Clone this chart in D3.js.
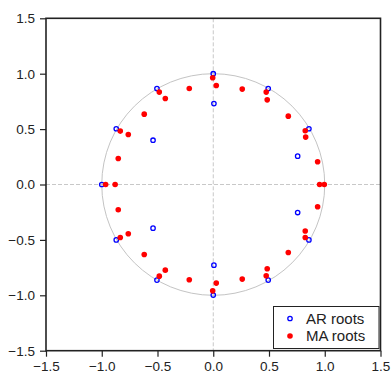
<!DOCTYPE html>
<html>
<head>
<meta charset="utf-8">
<script src="https://cdn.jsdelivr.net/npm/d3@7"></script>
<style>
  body { margin: 0; background: #fff; }
  svg { display: block; font-family: "Liberation Sans", Arial, sans-serif; }
</style>
</head>
<body>
<svg width="392" height="375"></svg>
<script>
// inverse roots
const arRe = [-0.505, -0.87, -0.54, -1.0, -0.54, -0.87, -0.505, 0.0, 0.006, 0.006, 0.0, 0.493, 0.858, 0.757, 0.757, 0.858, 0.493];
const arIm = [0.866, 0.503, 0.40, 0.0, -0.394, -0.5, -0.863, 1.0, 0.73, -0.728, -0.998, 0.866, 0.503, 0.256, -0.253, -0.5, -0.863];

const maRe = [-0.484, -0.43, -0.215, -0.619, -0.834, -0.762, -0.852, -0.965, -0.88,
              -0.852, -0.762, -0.834, -0.619, -0.43, -0.484, -0.215,
              -0.005, 0.027, 0.26, 0.475, 0.484, 0.673, 0.825, 0.829, 0.936, 0.954, 0.996,
              0.936, 0.825, 0.825, 0.673, 0.484, 0.475, 0.26, 0.027, -0.005];
const maIm = [0.834, 0.776, 0.866, 0.635, 0.482, 0.451, 0.235, 0.0, 0.0,
              -0.228, -0.445, -0.478, -0.632, -0.773, -0.827, -0.86,
              0.963, 0.894, 0.861, 0.834, 0.764, 0.617, 0.485, 0.428, 0.205, 0.0, 0.0,
              -0.201, -0.42, -0.478, -0.614, -0.761, -0.824, -0.854, -0.89, -0.96];

const ticks = [-1.5, -1.0, -0.5, 0.0, 0.5, 1.0, 1.5];
const legendLabels = ["AR roots", "MA roots"];

const svg = d3.select("svg");
const pl = 46, pr = 380.5, pt = 18.3, pb = 350.7;

const x = d3.scaleLinear().domain([-1.5, 1.5]).range([pl, pr]);
const y = d3.scaleLinear().domain([-1.5, 1.5]).range([pb, pt]);

// zero lines
svg.append("line")
  .attr("x1", x(0)).attr("x2", x(0)).attr("y1", pt).attr("y2", pb)
  .attr("stroke", "#c8c8c8").attr("stroke-dasharray", "4,2");
svg.append("line")
  .attr("x1", pl).attr("x2", pr).attr("y1", y(0)).attr("y2", y(0))
  .attr("stroke", "#c8c8c8").attr("stroke-dasharray", "4,2");

// unit circle
svg.append("ellipse")
  .attr("cx", x(0)).attr("cy", y(0))
  .attr("rx", x(1) - x(0)).attr("ry", y(0) - y(1))
  .attr("fill", "none").attr("stroke", "#c4c4c4").attr("stroke-width", 1);

// axes
const fmt = d3.format(".1f");
const xAxis = svg.append("g")
  .attr("transform", `translate(0,${pb})`)
  .call(d3.axisBottom(x).tickValues(ticks).tickFormat(fmt).tickSize(6).tickSizeOuter(0));
const yAxis = svg.append("g")
  .attr("transform", `translate(${pl},0)`)
  .call(d3.axisLeft(y).tickValues(ticks).tickFormat(fmt).tickSize(6).tickSizeOuter(0));
[xAxis, yAxis].forEach(g => {
  g.select(".domain").remove();
  g.selectAll(".tick line").attr("stroke", "#222").attr("stroke-width", 1.2);
  g.selectAll(".tick text").attr("fill", "#222").style("font-size", "13.5px")
    .style("font-family", "'Liberation Sans', Arial, sans-serif");
});
xAxis.selectAll(".tick text").attr("dy", "0.9em").attr("y", 8.5);
yAxis.selectAll(".tick text").attr("x", -11);

// frame
svg.append("rect")
  .attr("x", pl).attr("y", pt)
  .attr("width", pr - pl).attr("height", pb - pt)
  .attr("fill", "none").attr("stroke", "#222").attr("stroke-width", 1.6);

// AR roots
svg.append("g").selectAll("circle")
  .data(d3.range(arRe.length))
  .enter().append("circle")
  .attr("cx", i => x(arRe[i]))
  .attr("cy", i => y(arIm[i]))
  .attr("r", 2.2)
  .attr("fill", "none")
  .attr("stroke", "#0000ff")
  .attr("stroke-width", 1.3);

// MA roots
svg.append("g").selectAll("circle")
  .data(d3.range(maRe.length))
  .enter().append("circle")
  .attr("cx", i => x(maRe[i]))
  .attr("cy", i => y(maIm[i]))
  .attr("r", 2.8)
  .attr("fill", "#ff0000");

// legend
const lg = svg.append("g");
lg.append("rect")
  .attr("x", 273.5).attr("y", 306.5).attr("width", 105.5).attr("height", 42)
  .attr("fill", "#fff").attr("stroke", "#222").attr("stroke-width", 1);
legendLabels.forEach((t, i) => {
  const cy = 318.5 + i * 17.5;
  if (i === 0) {
    lg.append("circle").attr("cx", 290).attr("cy", cy).attr("r", 2.2)
      .attr("fill", "none").attr("stroke", "#0000ff").attr("stroke-width", 1.3);
  } else {
    lg.append("circle").attr("cx", 290).attr("cy", cy).attr("r", 2.8).attr("fill", "#ff0000");
  }
  lg.append("text").attr("x", 306).attr("y", cy).attr("dy", "0.36em")
    .attr("fill", "#222").style("font-size", "15px").text(t);
});
</script>
</body>
</html>
